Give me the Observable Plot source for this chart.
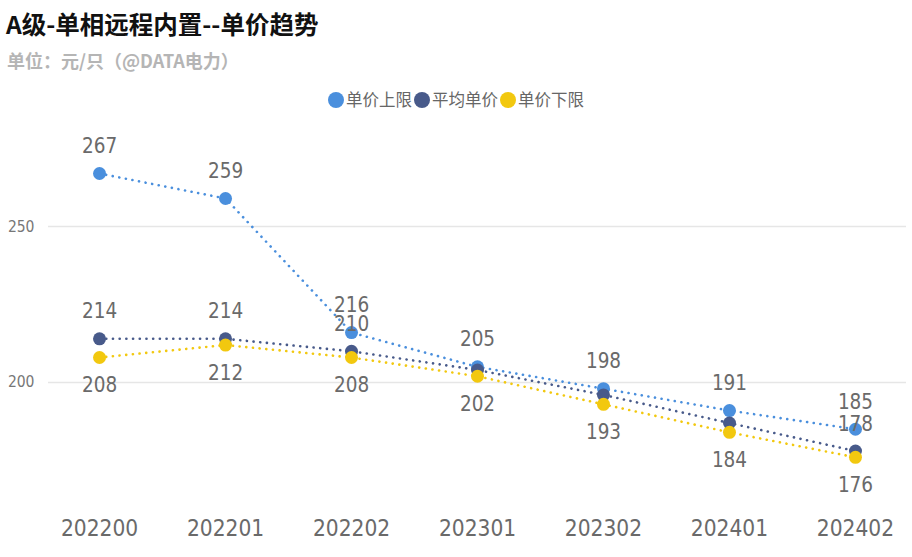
<!DOCTYPE html>
<html><head><meta charset="utf-8">
<script src="https://cdn.jsdelivr.net/npm/d3@7"></script>
<script src="https://cdn.jsdelivr.net/npm/@observablehq/plot@0.6"></script>
<style>
body{margin:0;background:#fff;font-family:"Noto Sans CJK SC","DejaVu Sans",sans-serif;width:912px;height:557px;overflow:hidden}
#title{position:absolute;left:6px;top:8px;font-size:24.5px;font-weight:bold;color:#111;line-height:32px;white-space:nowrap}
#sub{position:absolute;left:7px;top:46px;font-size:18px;font-weight:bold;color:#b5b5b5;line-height:28px;white-space:nowrap}
#legend{position:absolute;left:0;width:912px;top:86px;text-align:center;font-size:16.5px;color:#666;line-height:26px;white-space:nowrap}
#legend span.item{margin:0 1px}
#legend span.dot{display:inline-block;width:16px;height:16px;border-radius:50%;vertical-align:-2px;margin-right:2px}
#chart{position:absolute;left:0;top:115px}
</style></head>
<body>
<div id="title">A级-单相远程内置--单价趋势</div>
<div id="sub">单位：元/只（@DATA电力）</div>
<div id="legend"></div>
<div id="chart"></div>
<script>
const periods = ["202200","202201","202202","202301","202302","202401","202402"];
const upperPrice = [267,259,216,205,198,191,185];
const avgPrice = [214,214,210,204,196,187,178];
const lowerPrice = [208,212,208,202,193,184,176];
const avgLabelShown = [true,true,true,false,false,false,true];
const seriesNames = ["单价上限","平均单价","单价下限"];
const seriesColors = ["#4a8fdd","#485a8a","#f2c80f"];
const yTicks = [200,250];

const legend = document.getElementById("legend");
seriesNames.forEach((n,i)=>{
  const s=document.createElement("span");s.className="item";
  s.innerHTML=`<span class="dot" style="background:${seriesColors[i]}"></span>${n}`;
  legend.appendChild(s);
});

const rows = [];
[upperPrice,avgPrice,lowerPrice].forEach((arr,si)=>{
  arr.forEach((v,i)=>rows.push({period:periods[i],value:v,series:seriesNames[si],si,i}));
});
const labelRows = rows.filter(d => d.si!==1 || avgLabelShown[d.i]);
const numFont = "DejaVu Sans Condensed, DejaVu Sans, sans-serif";

const marks = [
  Plot.gridY(yTicks,{stroke:"#e6e6e6",strokeOpacity:1,strokeWidth:1.5})
];
seriesNames.forEach((n,si)=>{
  const data = rows.filter(d=>d.si===si);
  marks.push(Plot.line(data,{x:"period",y:"value",stroke:seriesColors[si],strokeWidth:2.6,strokeDasharray:"0.1 6.6",strokeLinecap:"round"}));
});
seriesNames.forEach((n,si)=>{
  const data = rows.filter(d=>d.si===si);
  marks.push(Plot.dot(data,{x:"period",y:"value",fill:seriesColors[si],r:6.5}));
});
marks.push(Plot.text(labelRows.filter(d=>d.si!==2),{x:"period",y:"value",text:d=>String(d.value),dy:-27,fill:"#6a6a6a",fontSize:20.5,fontFamily:numFont}));
marks.push(Plot.text(labelRows.filter(d=>d.si===2),{x:"period",y:"value",text:d=>String(d.value),dy:28,fill:"#6a6a6a",fontSize:20.5,fontFamily:numFont}));
marks.push(Plot.axisY({ticks:yTicks,tickSize:0,tickPadding:14,fontSize:15.5,fill:"#777",label:null,fontFamily:numFont}));
marks.push(Plot.axisX({tickSize:0,tickPadding:3,fontSize:22.5,fill:"#6a6a6a",label:null,fontFamily:numFont}));

const chart = Plot.plot({
  width:912,height:442,
  marginLeft:48,marginRight:6,marginTop:10,marginBottom:40,
  x:{type:"point",domain:periods,padding:0.405,round:false},
  y:{domain:[156.7,282.4]},
  style:{background:"transparent",overflow:"visible"},
  marks
});
document.getElementById("chart").appendChild(chart);
</script>
</body></html>
